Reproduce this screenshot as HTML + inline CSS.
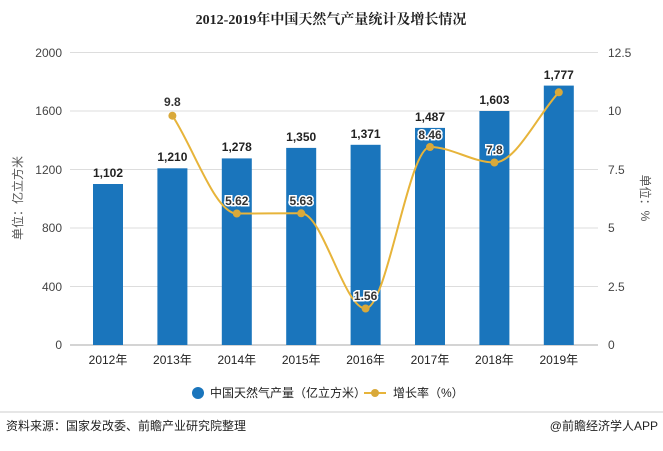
<!DOCTYPE html>
<html><head><meta charset="utf-8"><style>
body{margin:0;background:#fff;}
svg text{font-family:"Liberation Sans","Noto Sans CJK SC",sans-serif;}
</style></head><body>
<svg width="663" height="446" viewBox="0 0 663 446" xmlns="http://www.w3.org/2000/svg">
<text x="331" y="24" text-anchor="middle" font-size="14" font-weight="bold" fill="#222" style="font-family:'Liberation Serif','Noto Serif CJK SC',serif">2012-2019年中国天然气产量统计及增长情况</text>
<g stroke="#ddd" stroke-width="1">
<line x1="70" y1="52.5" x2="598" y2="52.5"/><line x1="70" y1="111" x2="598" y2="111"/>
<line x1="70" y1="169.5" x2="598" y2="169.5"/><line x1="70" y1="228" x2="598" y2="228"/>
<line x1="70" y1="286.5" x2="598" y2="286.5"/>
</g>
<line x1="70" y1="345" x2="598" y2="345" stroke="#aaa"/>
<g font-size="12" fill="#444" text-anchor="end">
<text x="62" y="57">2000</text><text x="62" y="115">1600</text><text x="62" y="174">1200</text>
<text x="62" y="232">800</text><text x="62" y="291">400</text><text x="62" y="349">0</text>
</g>
<g font-size="12" fill="#444">
<text x="608" y="57">12.5</text><text x="608" y="115">10</text><text x="608" y="174">7.5</text>
<text x="608" y="232">5</text><text x="608" y="291">2.5</text><text x="608" y="349">0</text>
</g>
<text transform="translate(22,198) rotate(-90)" text-anchor="middle" font-size="12" fill="#555">单位：亿立方米</text>
<text transform="translate(641,198) rotate(90)" text-anchor="middle" font-size="12" fill="#555">单位：%</text>
<g fill="#1a75bc">
<rect x="93" y="184" width="30" height="161"/>
<rect x="157.4" y="168.3" width="30" height="176.7"/>
<rect x="221.8" y="158.4" width="30" height="186.6"/>
<rect x="286.2" y="147.9" width="30" height="197.1"/>
<rect x="350.6" y="144.8" width="30" height="200.2"/>
<rect x="415" y="127.9" width="30" height="217.1"/>
<rect x="479.4" y="111" width="30" height="234"/>
<rect x="543.8" y="85.6" width="30" height="259.4"/>
</g>
<g font-size="12" font-weight="bold" fill="#222" text-anchor="middle">
<text x="108" y="177">1,102</text><text x="172.4" y="161">1,210</text><text x="236.8" y="151">1,278</text>
<text x="301.2" y="141">1,350</text><text x="365.6" y="138">1,371</text><text x="430" y="121">1,487</text>
<text x="494.4" y="104">1,603</text><text x="558.8" y="79">1,777</text>
</g>
<path d="M172.4,115.7 C193.9,148.3 215.3,213.5 236.8,213.5 C258.3,213.5 279.7,213.3 301.2,213.3 C322.7,213.3 344.1,308.5 365.6,308.5 C387.1,308.5 408.5,147 430,147 C451.5,147 472.9,162.5 494.4,162.5 C515.9,162.5 537.3,115.7 558.8,92.3" fill="none" stroke="#e7b43a" stroke-width="2"/>
<g fill="#d9a93a">
<circle cx="172.4" cy="115.7" r="4"/><circle cx="236.8" cy="213.5" r="4"/><circle cx="301.2" cy="213.3" r="4"/>
<circle cx="365.6" cy="308.5" r="4"/><circle cx="430" cy="147" r="4"/><circle cx="494.4" cy="162.5" r="4"/><circle cx="558.8" cy="92.3" r="4"/>
</g>
<g font-size="12" font-weight="bold" fill="#333" text-anchor="middle" stroke="#fff" stroke-width="3" paint-order="stroke">
<text x="172.4" y="106">9.8</text><text x="236.8" y="205">5.62</text><text x="301.2" y="205">5.63</text>
<text x="365.6" y="300">1.56</text><text x="430" y="139">8.46</text><text x="494.4" y="154">7.8</text>
</g>
<g font-size="12" fill="#222" text-anchor="middle">
<text x="108" y="364">2012年</text><text x="172.4" y="364">2013年</text>
<text x="236.8" y="364">2014年</text><text x="301.2" y="364">2015年</text>
<text x="365.6" y="364">2016年</text><text x="430" y="364">2017年</text>
<text x="494.4" y="364">2018年</text><text x="558.8" y="364">2019年</text>
</g>
<circle cx="198" cy="393" r="6" fill="#1a75bc"/>
<text x="210" y="397" font-size="12" fill="#222">中国天然气产量（亿立方米）</text>
<line x1="364" y1="393" x2="386" y2="393" stroke="#e7b43a" stroke-width="2"/>
<circle cx="375" cy="393" r="4" fill="#d9a93a"/>
<text x="393" y="397" font-size="12" fill="#222">增长率（%）</text>
<line x1="0" y1="412" x2="663" y2="412" stroke="#ccc"/>
<text x="6" y="430" font-size="12" fill="#222">资料来源：国家发改委、前瞻产业研究院整理</text>
<text x="658" y="430" font-size="12" fill="#222" text-anchor="end">@前瞻经济学人APP</text>
</svg>
</body></html>
